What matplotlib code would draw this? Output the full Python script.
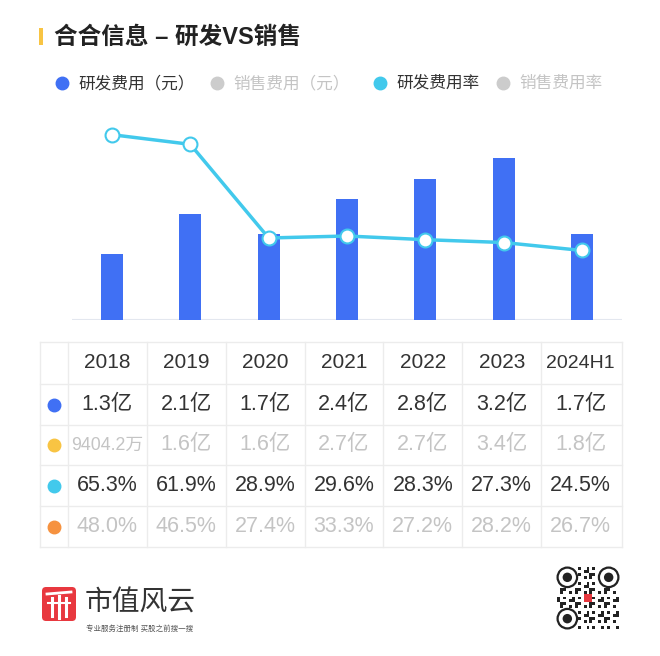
import numpy as np
import matplotlib
matplotlib.use("Agg")
import matplotlib.pyplot as plt
from matplotlib.patches import FancyBboxPatch, Rectangle, Circle

plt.rcParams['font.family'] = ['Liberation Sans', 'Noto Sans CJK SC', 'DejaVu Sans']

# data
years = ["2018", "2019", "2020", "2021", "2022", "2023", "2024H1"]
rd_cost = [1.3, 2.1, 1.7, 2.4, 2.8, 3.2, 1.7]          # 亿元
sales_cost = ["9404.2万", "1.6亿", "1.6亿", "2.7亿", "2.7亿", "3.4亿", "1.8亿"]
rd_rate = [65.3, 61.9, 28.9, 29.6, 28.3, 27.3, 24.5]    # %
sales_rate = [48.0, 46.5, 27.4, 33.3, 27.2, 28.2, 26.7]  # %

legend_names = ["研发费用（元）", "销售费用（元）", "研发费用率", "销售费用率"]

BLUE = "#4070f4"
CYAN = "#42c9ec"
YELLOW = "#f8c443"
ORANGE = "#f6923f"
DARK = "#333333"
LIGHT = "#c4c4c4"

W, H = 660, 656
fig = plt.figure(figsize=(W / 100, H / 100), dpi=100)
fig.patch.set_facecolor("white")

# overlay in pixel coords for text, legend, table, logo
ov = fig.add_axes([0, 0, 1, 1])
ov.set_xlim(0, W)
ov.set_ylim(H, 0)
ov.axis("off")
ov.patch.set_visible(False)

# title
ov.add_patch(Rectangle((39, 28), 3.5, 17, color=YELLOW, lw=0))
ov.text(54, 37, "合合信息 – 研发VS销售", fontsize=17, fontweight="bold",
        color="#222222", va="center", ha="left")

# legend
leg_x = [62, 217, 380, 503]
leg_col = [BLUE, "#cccccc", CYAN, "#cccccc"]
leg_txt = [DARK, LIGHT, DARK, LIGHT]
for lx, name, c, tc in zip(leg_x, legend_names, leg_col, leg_txt):
    ov.plot(lx, 83, "o", ms=9, color=c)
    ov.text(lx + 16, 83, name, fontsize=12, color=tc, va="center", ha="left")

# main chart
left, right, top, bottom = 72, 622, 110, 320
ax = fig.add_axes([left / W, 1 - bottom / H, (right - left) / W, (bottom - top) / H])
x = np.arange(len(years))
ax.bar(x, rd_cost, width=0.28, color=BLUE, zorder=2)
ax.set_xlim(-0.51, 6.51)
ax.set_ylim(0, 4.16)
ax.axis("off")
ax.axhline(0, color="#e3e7ef", lw=1.5, zorder=1)

ax2 = ax.twinx()
ax2.plot(x, rd_rate, color=CYAN, lw=2.5, marker="o", ms=10,
         mfc="white", mec=CYAN, mew=1.5, zorder=3)
ax2.set_ylim(0, 74)
ax2.axis("off")

# table
col_l, col_r = 68, 620
cw = (col_r - col_l) / len(years)
row_lines = [342, 384, 425, 465, 506, 547]
grid_c = "#ececec"
for ry in row_lines:
    ov.plot([40, 622], [ry, ry], color=grid_c, lw=1)
for cx in [40, col_l] + [col_l + cw * (k + 1) for k in range(len(years) - 1)] + [622]:
    ov.plot([cx, cx], [342, 547], color=grid_c, lw=1)

row_c = [(row_lines[i] + row_lines[i + 1]) / 2 for i in range(5)]
centers = [col_l + cw * (k + 0.5) for k in range(len(years))]

for cx, yr in zip(centers, years):
    fs = 14 if len(yr) > 4 else 15
    ov.text(cx, row_c[0], yr, fontsize=fs, color=DARK, ha="center", va="center")

rows = [
    ([f"{v}亿" for v in rd_cost], BLUE, DARK),
    (sales_cost, YELLOW, LIGHT),
    ([f"{v:.1f}%" for v in rd_rate], CYAN, DARK),
    ([f"{v:.1f}%" for v in sales_rate], ORANGE, LIGHT),
]
for ri, (labels, dot_c, txt_c) in enumerate(rows):
    yy = row_c[ri + 1]
    ov.plot(54, yy, "o", ms=9, color=dot_c)
    for cx, lab in zip(centers, labels):
        fs = 12.8 if len(lab) > 6 else 15.5
        ov.text(cx, yy, lab, fontsize=fs, color=txt_c, ha="center", va="center")

# logo
ov.add_patch(FancyBboxPatch((42, 587), 34, 34, boxstyle="round,pad=0,rounding_size=4",
                            color="#e8383f", lw=0))
ov.plot([47, 71], [594, 592], color="white", lw=2)
ov.plot([52, 52], [598, 616], color="white", lw=2.2)
ov.plot([59, 59], [596, 618], color="white", lw=2.2)
ov.plot([66, 66], [598, 616], color="white", lw=2.2)
ov.plot([48, 70], [603, 603], color="white", lw=1.5)
ov.text(85, 603, "市值风云", fontsize=20, color="#333333", va="center", ha="left")
ov.text(86, 629, "专业服务注册制 买股之前搜一搜", fontsize=5.4, color="#555555",
        va="center", ha="left")

# qr code (decorative)
qx, qy, qs = 557, 567, 62
n = 21
cell = qs / n
for i in range(n):
    for j in range(n):
        if (i < 7 and j < 7) or (i < 7 and j >= n - 7) or (i >= n - 7 and j < 7):
            continue
        if (i * 7 + j * 11 + i * j) % 5 in (0, 2):
            ov.add_patch(Rectangle((qx + j * cell, qy + i * cell), cell, cell,
                                   color="#222222", lw=0))
for (fi, fj) in [(0, 0), (0, n - 7), (n - 7, 0)]:
    cxp = qx + (fj + 3.5) * cell
    cyp = qy + (fi + 3.5) * cell
    ov.add_patch(Circle((cxp, cyp), 3.3 * cell, fc="white", ec="#222222", lw=1.6))
    ov.add_patch(Circle((cxp, cyp), 1.6 * cell, fc="#222222", lw=0))
ov.add_patch(Rectangle((qx + 9 * cell, qy + 9 * cell), 3 * cell, 3 * cell,
                       color="#e8383f", lw=0))

fig.savefig("out.png", dpi=100, facecolor="white")
